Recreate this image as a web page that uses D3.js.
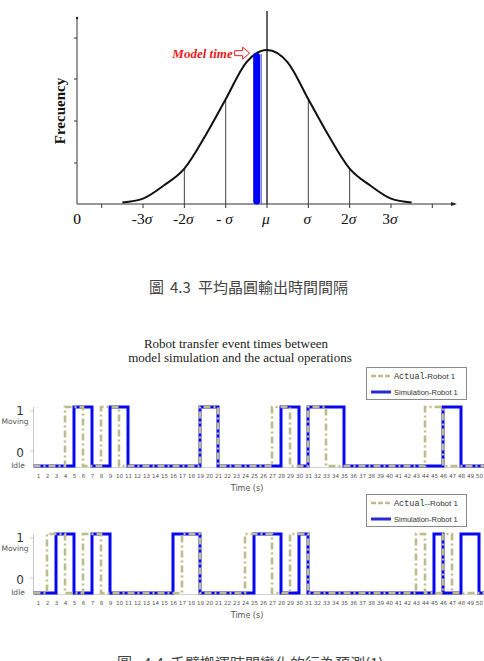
<!DOCTYPE html>
<html>
<head>
<meta charset="utf-8">
<script src="https://cdn.jsdelivr.net/npm/d3@7"></script>
<style>
  body { margin: 0; background: #fff; }
  svg { display: block; }
</style>
</head>
<body>
<div id="app"></div>
<script>
// normal curve, heights (relative to peak)
const sigmaSteps = [-3.5, -3, -2.5, -2, -1.5, -1, -0.5, 0, 0.5, 1, 1.5, 2, 2.5, 3, 3.5]
const frequency = [0.01, 0.035, 0.12, 0.23, 0.44, 0.68, 0.92, 1, 0.92, 0.68, 0.44, 0.23, 0.12, 0.035, 0.01]
const sigmaTicks = [-4, -3, -2, -1, 0, 1, 2, 3, 4]
const sigmaLabels = [
  { s: -3, pre: '-3', g: 'σ' }, { s: -2, pre: '-2', g: 'σ' }, { s: -1, pre: '- ', g: 'σ' },
  { s: 0, pre: '', g: 'μ' }, { s: 1, pre: '', g: 'σ' }, { s: 2, pre: '2', g: 'σ' }, { s: 3, pre: '3', g: 'σ' }
]
const guideLines = [-2, -1, 1, 2]
const modelTime = -0.25

// robot step charts: [start, end] of each "moving" interval, in seconds
const actual1 = [[4, 6], [8, 10], [19, 21], [27, 29], [31, 33], [44, 46]]
const sim1 = [[5, 7], [9, 11], [19, 21], [28, 30], [31, 35], [46, 48]]
const actual2 = [[2, 4], [6, 8], [17, 19], [24, 27], [29, 31], [43, 44], [46, 47]]
const sim2 = [[3, 5], [7, 9], [16, 19], [25, 28], [30, 31], [45, 46], [48, 50]]
const timeTicks = d3.range(1, 52)

const W = 484, H = 661
const svg = d3.select('#app').append('svg').attr('width', W).attr('height', H)
svg.append('rect').attr('width', W).attr('height', H).attr('fill', '#fff')

// ---------- normal distribution ----------
const xs = d3.scaleLinear().domain([-4, 4]).range([101.7, 432.3])
const ys = d3.scaleLinear().domain([0, 1]).range([204, 50])
const axisX0 = 77
const normal = svg.append('g')

normal.append('line').attr('x1', axisX0).attr('x2', axisX0).attr('y1', 18).attr('y2', 204)
  .attr('stroke', '#333').attr('stroke-width', 1)
normal.append('circle').attr('cx', axisX0).attr('cy', 18).attr('r', 1.2).attr('fill', '#222')
;[38, 79, 121, 163].forEach(y => {
  normal.append('line').attr('x1', axisX0 - 3).attr('x2', axisX0).attr('y1', y).attr('y2', y).attr('stroke', '#333')
})
normal.append('line').attr('x1', axisX0).attr('x2', 455).attr('y1', 204).attr('y2', 204)
  .attr('stroke', '#333').attr('stroke-width', 1)
normal.append('path').attr('d', 'M451,202L457,204L451,206Z').attr('fill', '#222')
sigmaTicks.forEach(s => {
  normal.append('line').attr('x1', xs(s)).attr('x2', xs(s)).attr('y1', 204).attr('y2', 208).attr('stroke', '#333')
})

const curvePts = sigmaSteps.map((s, i) => [s, frequency[i]])
const freqAt = s => d3.scaleLinear().domain(sigmaSteps).range(frequency)(s)

guideLines.forEach(s => {
  normal.append('line').attr('x1', xs(s)).attr('x2', xs(s)).attr('y1', 204).attr('y2', ys(freqAt(s)))
    .attr('stroke', '#444').attr('stroke-width', 1)
})

normal.append('path')
  .attr('d', d3.line().x(d => xs(d[0])).y(d => ys(d[1])).curve(d3.curveMonotoneX)(curvePts))
  .attr('fill', 'none').attr('stroke', '#111').attr('stroke-width', 2)

normal.append('line').attr('x1', xs(0)).attr('x2', xs(0)).attr('y1', 11).attr('y2', 204)
  .attr('stroke', '#111').attr('stroke-width', 1.3)

// model time bar
normal.append('line').attr('x1', xs(modelTime)).attr('x2', xs(modelTime))
  .attr('y1', 201).attr('y2', ys(freqAt(modelTime)))
  .attr('stroke', '#0000ff').attr('stroke-width', 7).attr('stroke-linecap', 'round')
normal.append('line').attr('x1', xs(modelTime) + 4.5).attr('x2', xs(modelTime) + 4.5)
  .attr('y1', 204).attr('y2', ys(freqAt(modelTime)) - 2)
  .attr('stroke', '#4040ff').attr('stroke-width', 1)

const ax = xs(modelTime) - 7, ay = ys(freqAt(modelTime)) - 3
normal.append('path')
  .attr('d', `M${ax - 15},${ay - 2.5}L${ax - 7},${ay - 2.5}L${ax - 7},${ay - 6}L${ax},${ay}L${ax - 7},${ay + 6}L${ax - 7},${ay + 2.5}L${ax - 15},${ay + 2.5}Z`)
  .attr('fill', '#fff').attr('stroke', '#e51b1b').attr('stroke-width', 1)
normal.append('text').attr('x', ax - 17).attr('y', ay + 5).attr('text-anchor', 'end')
  .style('font-family', 'Liberation Serif').style('font-size', '13px')
  .style('font-style', 'italic').style('font-weight', 'bold').style('fill', '#e51b1b')
  .text('Model time')

normal.append('text').attr('transform', 'translate(65,111) rotate(-90)').attr('text-anchor', 'middle')
  .style('font-family', 'Liberation Serif').style('font-size', '15px').style('font-weight', 'bold')
  .style('fill', '#111').text('Frecuency')

normal.append('text').attr('x', axisX0).attr('y', 224).attr('text-anchor', 'middle')
  .style('font-family', 'Liberation Serif').style('font-size', '15.5px').text('0')
sigmaLabels.forEach(d => {
  const t = normal.append('text').attr('x', xs(d.s) - 1).attr('y', 224).attr('text-anchor', 'middle')
    .style('font-family', 'Liberation Serif').style('font-size', '15.5px').style('fill', '#111')
  if (d.pre) t.append('tspan').text(d.pre)
  t.append('tspan').style('font-style', 'italic').text(d.g)
})

// ---------- captions ----------
function caption (y, parts) {
  const t = svg.append('text').attr('y', y)
    .style('font-family', '"Noto Sans CJK TC"').style('font-size', '15px').style('fill', '#444')
  parts.forEach(p => t.append('tspan').attr('x', p[0]).text(p[1]))
}
caption(293, [[149, '圖'], [170, '4.3'], [198, '平均晶圓輸出時間間隔']])
caption(669, [[117, '圖'], [143, '4.4'], [170, '手臂搬運時間變化的行為預測(1)']])

const title = svg.append('text').attr('text-anchor', 'middle')
  .style('font-family', 'Liberation Serif').style('font-size', '13px').style('fill', '#222')
title.append('tspan').attr('x', 236).attr('y', 348).text('Robot transfer event times between')
title.append('tspan').attr('x', 240).attr('y', 362).text('model simulation and the actual operations')

// ---------- step charts ----------
const xt = d3.scaleLinear().domain([0.5, 51.5]).range([33.5, 492.5])
const actualColor = '#bebc8c', simColor = '#0808f0'

function toPoints (pulses) {
  const pts = [[0.5, 0]]
  pulses.forEach(([a, b]) => { pts.push([a, 0], [a, 1], [b, 1], [b, 0]) })
  pts.push([51.5, 0])
  return pts
}

function stepChart (T, actual, sim, sep) {
  const yt = d3.scaleLinear().domain([0, 1]).range([T + 59, T])
  const g = svg.append('g')

  g.append('line').attr('x1', 33.5).attr('x2', 33.5).attr('y1', T).attr('y2', T + 59)
    .attr('stroke', '#c8c8c8')
  ;[T + 4, T + 44].forEach(y => {
    g.append('line').attr('x1', 30).attr('x2', 33).attr('y1', y).attr('y2', y).attr('stroke', '#ccc')
  })

  const xAxis = g.append('g').attr('transform', `translate(0,${T + 60})`)
    .call(d3.axisBottom(xt).tickValues(timeTicks).tickSize(0).tickPadding(7).tickFormat(d3.format('d')))
  xAxis.select('.domain').attr('stroke', '#d0d0d0')
  xAxis.selectAll('text').style('font-family', '"DejaVu Sans"').style('font-size', '5.6px').style('fill', '#555')

  const line = d3.line().x(d => xt(d[0])).y(d => yt(d[1]))
  g.append('path').attr('d', line(toPoints(sim)))
    .attr('fill', 'none').attr('stroke', simColor).attr('stroke-width', 3)
  g.append('path').attr('d', line(toPoints(actual)))
    .attr('fill', 'none').attr('stroke', actualColor).attr('stroke-width', 2.6)
    .attr('stroke-dasharray', '7,3,2,3')

  const lab = (x, y, txt, size, col) => g.append('text').attr('x', x).attr('y', y)
    .attr('text-anchor', 'middle').attr('dominant-baseline', 'middle')
    .style('font-family', '"DejaVu Sans"').style('font-size', size).style('fill', col).text(txt)
  lab(20, T + 4, '1', '12px', '#333')
  lab(15, T + 15, 'Moving', '7.5px', '#555')
  lab(20, T + 46, '0', '12px', '#333')
  lab(18, T + 59, 'Idle', '7.5px', '#555')
  lab(247, T + 81, 'Time (s)', '8px', '#555')

  // legend
  const L = T - 40
  g.append('rect').attr('x', 366.5).attr('y', L + 0.5).attr('width', 100).attr('height', 32)
    .attr('fill', '#fff').attr('stroke', '#8a8a8a')
  g.append('line').attr('x1', 371).attr('x2', 391).attr('y1', L + 9).attr('y2', L + 9)
    .attr('stroke', actualColor).attr('stroke-width', 2.5).attr('stroke-dasharray', '5,2')
  g.append('line').attr('x1', 371).attr('x2', 391).attr('y1', L + 25).attr('y2', L + 25)
    .attr('stroke', '#2a2ad0').attr('stroke-width', 3)
  const t1 = g.append('text').attr('x', 394).attr('y', L + 12).style('fill', '#333')
  t1.append('tspan').style('font-family', '"Liberation Mono"').style('font-size', '8.5px').text('Actual')
  t1.append('tspan').style('font-family', '"Liberation Sans"').style('font-size', '8px').text(sep + 'Robot 1')
  g.append('text').attr('x', 394).attr('y', L + 28).style('fill', '#333')
    .style('font-family', '"Liberation Sans"').style('font-size', '7.5px').text('Simulation-Robot 1')
}

stepChart(407, actual1, sim1, '-')
stepChart(534, actual2, sim2, '--')
</script>
</body>
</html>
